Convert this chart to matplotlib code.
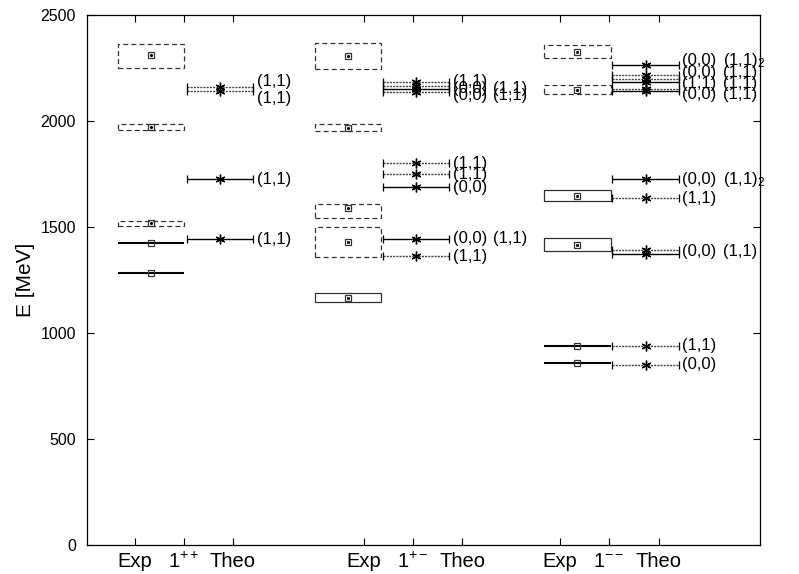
import matplotlib
matplotlib.use('Agg')
import matplotlib.pyplot as plt
from matplotlib.patches import Rectangle

plt.rcParams['font.family'] = ['Liberation Sans', 'DejaVu Sans']
plt.rcParams['mathtext.fontset'] = 'custom'
plt.rcParams['mathtext.rm'] = 'Liberation Sans'
plt.rcParams['mathtext.it'] = 'Liberation Sans'

# experimental states: centre, lower edge, upper edge, dashed (uncertain)
exp_1pp = [2310, 1970, 1518, 1426, 1282]
exp_1pp_lo = [2250, 1955, 1506, 1426, 1282]
exp_1pp_hi = [2365, 1985, 1528, 1426, 1282]
exp_1pp_dash = [True, True, True, False, False]

exp_1pm = [2308, 1968, 1590, 1430, 1167]
exp_1pm_lo = [2245, 1953, 1541, 1360, 1146]
exp_1pm_hi = [2366, 1984, 1608, 1500, 1187]
exp_1pm_dash = [True, True, True, True, False]

exp_1mm = [2327, 2148, 1646, 1415, 939, 860]
exp_1mm_lo = [2296, 2127, 1623, 1388, 939, 860]
exp_1mm_hi = [2358, 2170, 1675, 1450, 939, 860]
exp_1mm_dash = [True, True, False, False, False, False]

# theory levels
theo_1pp = [2162, 2143, 1724, 1443]
theo_1pm = [2186, 2165, 2150, 2135, 1800, 1748, 1688, 1445, 1362]
theo_1mm = [2264, 2215, 2200, 2186, 2152, 2143, 1724, 1636, 1390, 1374, 940, 850]

# level labels (text, energy where the label sits)
lab_1pp = ['(1,1)', '(1,1)', '(1,1)', '(1,1)']
lab_1pp_E = [2186, 2104, 1724, 1443]
lab_1pp_2 = []
lab_1pp_2E = []

lab_1pm = ['(1,1)', '(0,0)', '(0,0)', '(1,1)', '(1,1)', '(0,0)', '(0,0)', '(1,1)']
lab_1pm_E = [2186, 2152, 2122, 1800, 1748, 1688, 1445, 1362]
lab_1pm_2 = ['(1,1)', '(1,1)', '(1,1)']
lab_1pm_2E = [2152, 2122, 1445]

lab_1mm = ['(0,0)', '(0,0)', '(1,1)', '(0,0)', '(0,0)', '(1,1)', '(0,0)', '(1,1)', '(0,0)']
lab_1mm_E = [2287, 2228, 2178, 2123, 1724, 1636, 1382, 940, 850]
lab_1mm_2 = ['(1,1)$_2$', '(1,1)', '(1,1)', '(1,1)', '(1,1)$_2$', '(1,1)']
lab_1mm_2E = [2287, 2228, 2178, 2123, 1724, 1382]

tick_labels = ['Exp', '$1^{++}$', 'Theo', 'Exp', '$1^{+-}$', 'Theo',
               'Exp', '$1^{--}$', 'Theo']

# layout (x units)
exp_left = [0.63, 4.63, 9.28]
theo_left = [2.03, 6.00, 10.66]
width = 1.34
tick_pos = [0.97, 1.97, 2.96, 5.62, 6.61, 7.61, 9.59, 10.59, 11.60]
theo_style = [
    ['dot', 'dot', 'solid', 'solid'],
    ['dot', 'dot', 'solid', 'dot', 'dot', 'dot', 'solid', 'solid', 'dot'],
    ['solid', 'dot', 'dot', 'solid', 'dot', 'solid', 'solid', 'dot', 'dot', 'solid', 'dot', 'dot'],
]

fig = plt.figure(figsize=(7.99, 5.74), dpi=100)
ax = fig.add_axes([0.109, 0.0505, 0.842, 0.9235])

groups = [
    (exp_1pp, exp_1pp_lo, exp_1pp_hi, exp_1pp_dash, theo_1pp, lab_1pp, lab_1pp_E, lab_1pp_2, lab_1pp_2E),
    (exp_1pm, exp_1pm_lo, exp_1pm_hi, exp_1pm_dash, theo_1pm, lab_1pm, lab_1pm_E, lab_1pm_2, lab_1pm_2E),
    (exp_1mm, exp_1mm_lo, exp_1mm_hi, exp_1mm_dash, theo_1mm, lab_1mm, lab_1mm_E, lab_1mm_2, lab_1mm_2E),
]

for g, (ec, elo, ehi, edash, th, lab, labE, lab2, lab2E) in enumerate(groups):
    x0 = exp_left[g]
    xc = x0 + width / 2
    for c, lo, hi, d in zip(ec, elo, ehi, edash):
        if hi > lo:
            ax.add_patch(Rectangle((x0, lo), width, hi - lo, fill=False, lw=0.9,
                                   ec='#333333', ls=(0, (4, 2.5)) if d else '-'))
            ax.plot(xc, c, 'o', ms=1.2, color='black')
        else:
            ax.hlines(c, x0, x0 + width, color='black', lw=1.5)
        ax.plot(xc, c, 's', ms=5, mfc='none', mec='#333333', mew=0.9)

    t0 = theo_left[g]
    tc = t0 + width / 2
    for E, st in zip(th, theo_style[g]):
        eb = ax.errorbar(tc, E, xerr=width / 2, fmt='none', ecolor='black',
                         elinewidth=1.0, capsize=3, capthick=0.9)
        if st == 'dot':
            eb[2][0].set_linestyle((0, (1.5, 0.8)))
            eb[2][0].set_color('#444444')
        ax.plot(tc, E, marker=(6, 2, 0), ms=7, color='black', mew=1.0)

    lx = t0 + width + 0.08
    for s, E in zip(lab, labE):
        ax.text(lx, E, s, fontsize=12, va='center', ha='left', clip_on=False)
    for s, E in zip(lab2, lab2E):
        ax.text(lx + 0.82, E, s, fontsize=12, va='center', ha='left', clip_on=False)

ax.set_xlim(0, 13.65)
ax.set_ylim(0, 2500)
ax.set_xticks(tick_pos)
ax.set_xticklabels(tick_labels, fontsize=14.5)
ax.set_yticks([0, 500, 1000, 1500, 2000, 2500])
ax.tick_params(axis='y', labelsize=11.5, direction='in', right=True, length=5, pad=8)
ax.tick_params(axis='x', direction='in', top=True, length=5, pad=5)
ax.set_ylabel('E [MeV]', fontsize=15, labelpad=4)
for sp in ax.spines.values():
    sp.set_linewidth(0.9)

fig.savefig('out.png', dpi=100)
